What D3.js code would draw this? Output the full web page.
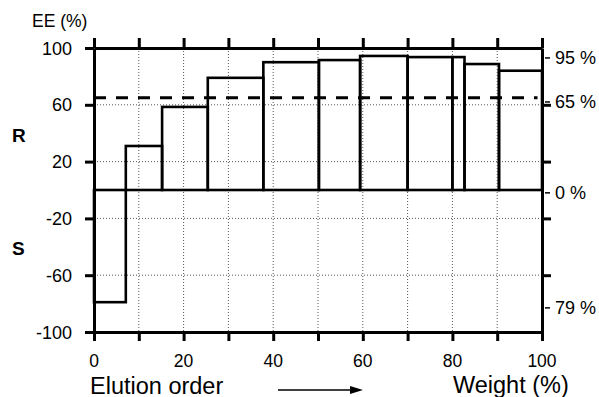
<!DOCTYPE html>
<html>
<head>
<meta charset="utf-8">
<script src="https://cdn.jsdelivr.net/npm/d3@7"></script>
<style>
  body { margin: 0; background: #fff; }
  text { font-family: "Liberation Sans", Arial, sans-serif; fill: #000; }
</style>
</head>
<body>
<div id="canvas"></div>
<script>
"use strict"

// fraction boundaries (weight %) and the EE of each fraction
let fractionEdges = [0, 7.1, 15.2, 25.4, 37.8, 50.2, 59.4, 70, 80, 82.7, 90.4, 100];
let fractionEE = [-79, 31, 58.5, 79, 90, 91.5, 94.4, 93.6, 93.6, 88.7, 84];
let yTicks = [100, 60, 20, -20, -60, -100];
let yGrid = [60, 20, -20, -60];
let xTicks = [0, 20, 40, 60, 80, 100];
let xMinor = [0, 10, 20, 30, 40, 50, 60, 70, 80, 90, 100];
let dashedLevel = 65;
let rightLabels = ["95 %", "65 %", "0 %", "79 %"];
let rightLabelAt = [93, 62, -2, -83];

let drawing = d3.select("#canvas")
    .append("svg")
    .attr("width", 599)
    .attr("height", 397);

let x = d3.scaleLinear().domain([0, 100]).range([94, 542]);
let y = d3.scaleLinear().domain([-100, 100]).range([332, 48]);

// dotted grid
drawing.append("g").selectAll("line")
    .data(xMinor.slice(1, -1))
    .join("line")
    .attr("x1", d => x(d)).attr("x2", d => x(d))
    .attr("y1", y(100)).attr("y2", y(-100))
    .attr("stroke", "#555")
    .attr("stroke-width", 1)
    .attr("stroke-dasharray", "1,2");

drawing.append("g").selectAll("line")
    .data(yGrid)
    .join("line")
    .attr("x1", x(0)).attr("x2", x(100))
    .attr("y1", d => y(d)).attr("y2", d => y(d))
    .attr("stroke", "#555")
    .attr("stroke-width", 1)
    .attr("stroke-dasharray", "1,2");

// dashed 65 % level
drawing.append("line")
    .attr("x1", x(0)).attr("x2", x(99))
    .attr("y1", y(dashedLevel)).attr("y2", y(dashedLevel))
    .attr("stroke", "black")
    .attr("stroke-width", 3)
    .attr("stroke-dasharray", "12,10");

// fraction bars
let fractions = fractionEE.map((v, i) => ({ x0: fractionEdges[i], x1: fractionEdges[i + 1], v: v }));
drawing.append("g").selectAll("rect")
    .data(fractions)
    .join("rect")
    .attr("x", d => x(d.x0))
    .attr("width", d => x(d.x1) - x(d.x0))
    .attr("y", d => y(Math.max(0, d.v)))
    .attr("height", d => Math.abs(y(d.v) - y(0)))
    .attr("fill", "none")
    .attr("stroke", "black")
    .attr("stroke-width", 2.6);

// frame axes
let axisStyle = g => g.call(g => g.select(".domain").attr("stroke-width", 3))
    .call(g => g.selectAll(".tick line").attr("stroke-width", 3))
    .call(g => g.selectAll(".tick text").remove());

drawing.append("g")
    .attr("transform", `translate(${x(0)},0)`)
    .call(d3.axisLeft(y).tickValues(yTicks).tickSize(9).tickSizeOuter(0))
    .call(axisStyle);

drawing.append("g")
    .attr("transform", `translate(${x(100)},0)`)
    .call(d3.axisRight(y).tickValues(yGrid).tickSize(9).tickSizeOuter(0))
    .call(axisStyle);

drawing.append("g")
    .attr("transform", `translate(0,${y(100)})`)
    .call(d3.axisTop(x).tickValues(xMinor).tickSize(10).tickSizeOuter(0))
    .call(axisStyle);

drawing.append("g")
    .attr("transform", `translate(0,${y(-100)})`)
    .call(d3.axisBottom(x).tickValues(xMinor).tickSize(9).tickSizeOuter(0))
    .call(axisStyle);

// tick labels
drawing.append("g").selectAll("text")
    .data(yTicks)
    .join("text")
    .attr("x", 72)
    .attr("y", d => y(d) + 6.5)
    .attr("text-anchor", "end")
    .attr("font-size", 18)
    .text(d => d);

drawing.append("g").selectAll("text")
    .data(xTicks)
    .join("text")
    .attr("x", d => x(d))
    .attr("y", 367)
    .attr("text-anchor", "middle")
    .attr("font-size", 17.5)
    .text(d => d);

// right hand annotations
drawing.append("g").selectAll("line")
    .data(rightLabelAt)
    .join("line")
    .attr("x1", x(100) + 3).attr("x2", x(100) + 8)
    .attr("y1", d => y(d)).attr("y2", d => y(d))
    .attr("stroke", "black")
    .attr("stroke-width", 1.5);

drawing.append("g").selectAll("text")
    .data(rightLabels)
    .join("text")
    .attr("x", 555)
    .attr("y", (d, i) => y(rightLabelAt[i]) + 6.5)
    .attr("font-size", 18)
    .text(d => d);

drawing.append("text")
    .attr("x", 32).attr("y", 27)
    .attr("font-size", 17.5)
    .text("EE (%)");

drawing.append("text")
    .attr("x", 12).attr("y", 142)
    .attr("font-size", 19)
    .attr("font-weight", "bold")
    .text("R");

drawing.append("text")
    .attr("x", 12).attr("y", 255)
    .attr("font-size", 19)
    .attr("font-weight", "bold")
    .text("S");

drawing.append("text")
    .attr("x", 90).attr("y", 393.5)
    .attr("font-size", 23.5)
    .text("Elution order");

drawing.append("text")
    .attr("x", 453).attr("y", 392.5)
    .attr("font-size", 23.5)
    .text("Weight (%)");

// arrow
drawing.append("line")
    .attr("x1", 278).attr("x2", 352)
    .attr("y1", 390).attr("y2", 390)
    .attr("stroke", "black")
    .attr("stroke-width", 1.5);

drawing.append("path")
    .attr("d", "M350,386 L363,390 L350,394 Z")
    .attr("fill", "black");
</script>
</body>
</html>
